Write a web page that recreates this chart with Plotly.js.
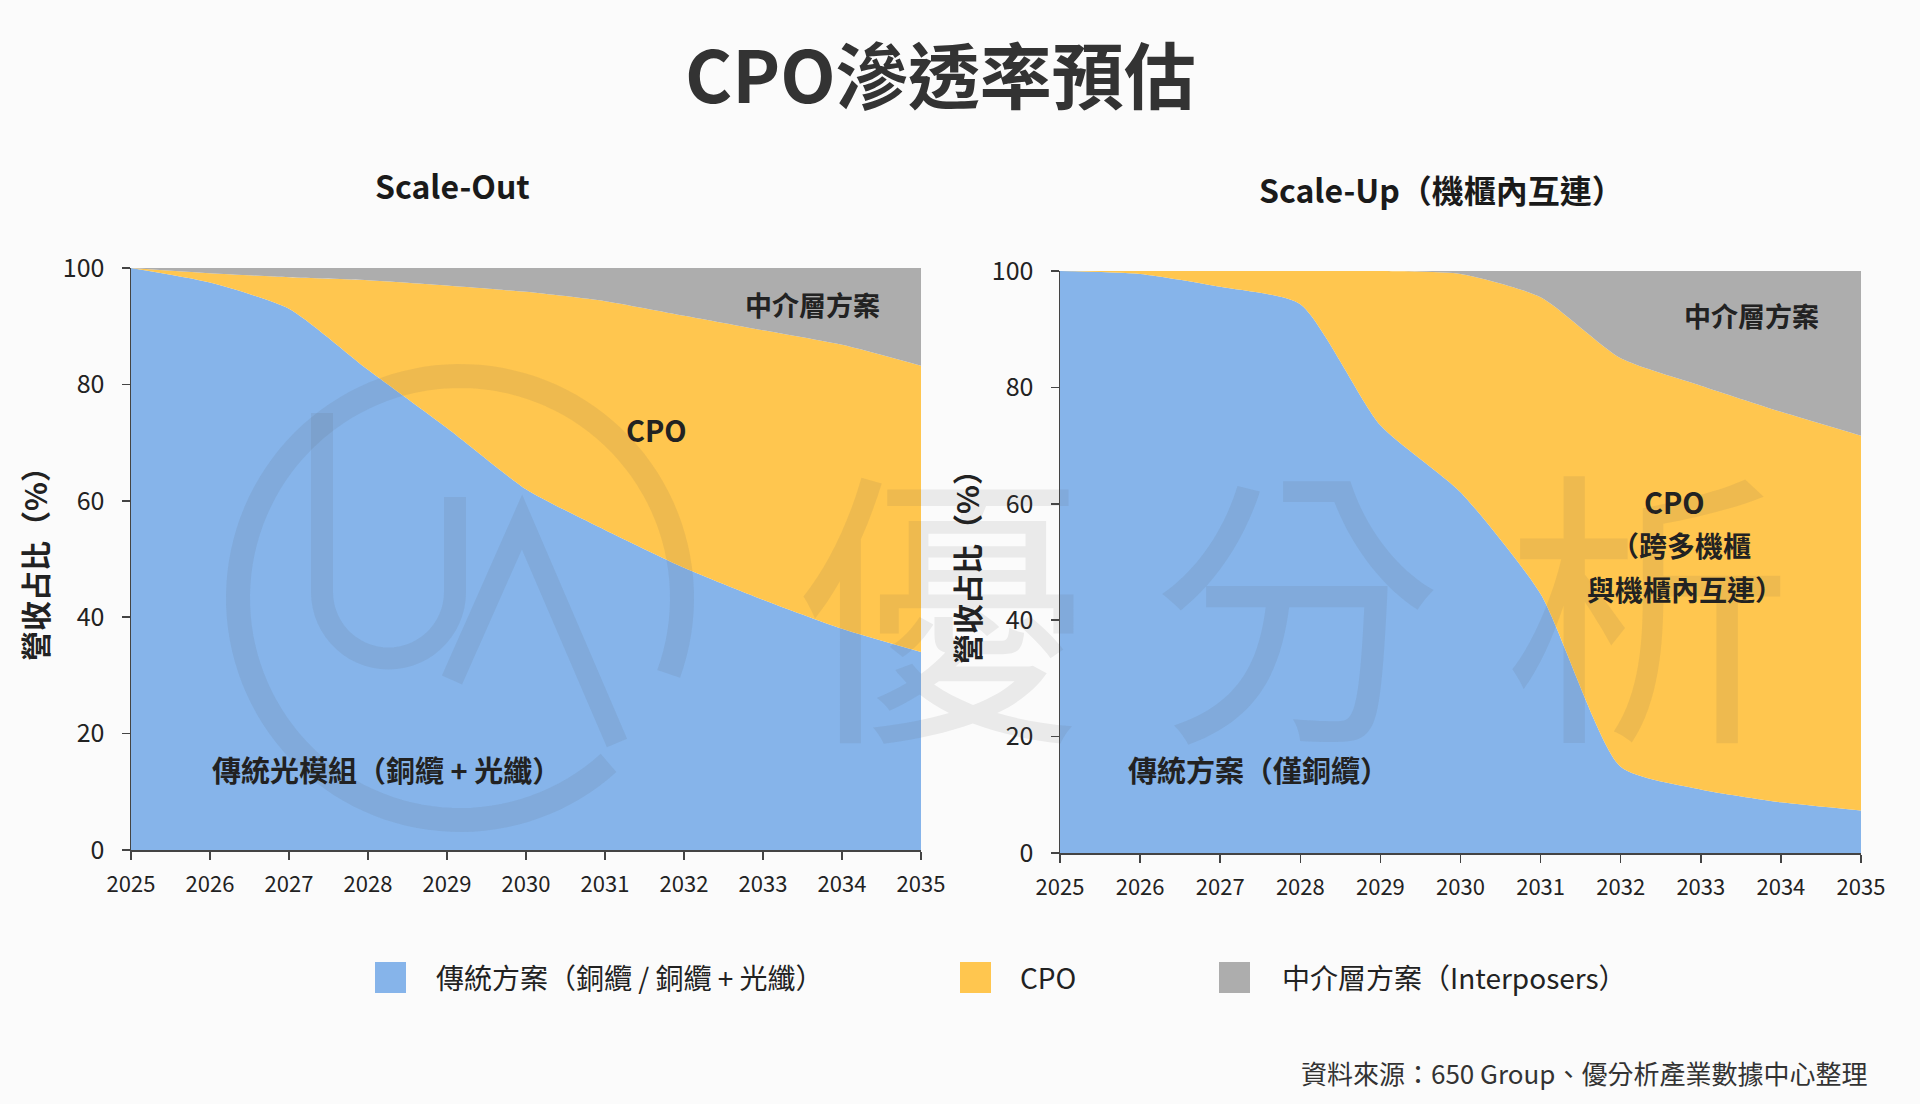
<!DOCTYPE html>
<html>
<head>
<meta charset="utf-8">
<script src="https://cdn.plot.ly/plotly-3.0.1.min.js"></script>
<style>
html,body{margin:0;padding:0;background:#fbfbfb;}
#chart{width:1920px;height:1104px;}
</style>
</head>
<body>
<div id="chart"></div>
<script>
// ---------- data ----------
const years = [2025, 2026, 2027, 2028, 2029, 2030, 2031, 2032, 2033, 2034, 2035];
const yTicks = [0, 20, 40, 60, 80, 100];

// Scale-Out (share of revenue, %)
const soTraditional = [100, 97.5, 93.0, 82.5, 72.5, 62.0, 55.0, 48.5, 43.0, 38.0, 34.0];
const soCPO         = [0,   1.6,  5.4,  15.4, 24.5, 33.9, 39.3, 43.3, 46.3, 48.8, 49.2];
const soInterposer  = [0,   0.9,  1.6,  2.1,  3.0,  4.1,  5.7,  8.2,  10.7, 13.2, 16.8];

// Scale-Up (share of revenue, %)
const suTraditional = [100, 99.5, 97.3, 94.3, 73.5, 62.0, 44.5, 14.8, 10.9, 8.7, 7.3];
const suCPO         = [0,   0.5,  2.7,  5.7,  26.5, 37.5, 51.0, 70.2, 69.4, 67.1, 64.4];
const suInterposer  = [0,   0,    0,    0,    0,    0.5,  4.5,  15.0, 19.7, 24.2, 28.3];

const seriesNames = ['傳統方案（銅纜 / 銅纜 + 光纖）', 'CPO', '中介層方案（Interposers）'];
const colors = ['#86b4ea', '#ffc64f', '#adadad'];

// ---------- helpers ----------
const W = 1920, H = 1104;
const px = x => x / W;
const py = y => 1 - y / H;
const FONT = '"Noto Sans CJK TC", "Noto Sans", sans-serif';

function area(x, y, name, color, xa, ya, group) {
  return {
    x: x, y: y, name: name, type: 'scatter', mode: 'lines',
    stackgroup: group, xaxis: xa, yaxis: ya,
    line: {width: 0, shape: 'spline', smoothing: 0.6},
    fillcolor: color, showlegend: false, hoverinfo: 'x+y+name'
  };
}

const traces = [
  area(years, soTraditional, seriesNames[0], colors[0], 'x', 'y', 'so'),
  area(years, soCPO, seriesNames[1], colors[1], 'x', 'y', 'so'),
  area(years, soInterposer, seriesNames[2], colors[2], 'x', 'y', 'so'),
  area(years, suTraditional, seriesNames[0], colors[0], 'x2', 'y2', 'su'),
  area(years, suCPO, seriesNames[1], colors[1], 'x2', 'y2', 'su'),
  area(years, suInterposer, seriesNames[2], colors[2], 'x2', 'y2', 'su')
];

function xAxis(domain, anchor) {
  return {
    domain: domain, anchor: anchor, range: [2025, 2035],
    tickvals: years, ticktext: years.map(String),
    ticks: 'outside', ticklen: 8, tickwidth: 1.5, tickcolor: '#444',
    showline: true, linecolor: '#444', linewidth: 1.5,
    showgrid: false, zeroline: false, fixedrange: true,
    tickfont: {family: FONT, size: 22, color: '#222'}, ticklabelstandoff: 6
  };
}
function yAxis(domain, anchor) {
  return {
    domain: domain, anchor: anchor, range: [0, 100],
    tickvals: yTicks, ticktext: yTicks.map(String),
    ticks: 'outside', ticklen: 8, tickwidth: 1.5, tickcolor: '#444',
    showline: true, linecolor: '#444', linewidth: 1.5,
    showgrid: false, zeroline: false, fixedrange: true,
    tickfont: {family: FONT, size: 25, color: '#222'}, ticklabelstandoff: 12
  };
}

// ---------- watermark ----------
const wmColor = 'rgba(90,90,90,0.10)';
function arcPath(cx, cy, r, a0, a1, n) {
  let d = '';
  for (let i = 0; i <= n; i++) {
    const a = (a0 + (a1 - a0) * i / n) * Math.PI / 180;
    const X = cx + r * Math.cos(a), Y = cy + r * Math.sin(a);
    d += (i === 0 ? 'M' : 'L') + px(X).toFixed(5) + ',' + py(Y).toFixed(5);
  }
  return d;
}
function uPath() {
  const lx = 322, rx = 455, top = 413, base = 592;
  let d = 'M' + px(lx) + ',' + py(top) + 'L' + px(lx) + ',' + py(base);
  const cx = (lx + rx) / 2, cy = base, r = (rx - lx) / 2;
  for (let i = 1; i <= 30; i++) {
    const a = Math.PI - Math.PI * i / 30;
    d += 'L' + px(cx + r * Math.cos(a)).toFixed(5) + ',' + py(cy + r * Math.sin(a)).toFixed(5);
  }
  d += 'L' + px(rx) + ',' + py(497);
  return d;
}
const aPath = 'M' + px(452) + ',' + py(680) + 'L' + px(522) + ',' + py(522) + 'L' + px(617) + ',' + py(743);

const shapes = [
  {type: 'path', xref: 'paper', yref: 'paper', layer: 'above', path: arcPath(460, 598, 222, 20, -312, 120), line: {color: wmColor, width: 24}},
  {type: 'path', xref: 'paper', yref: 'paper', layer: 'above', path: uPath(), line: {color: wmColor, width: 22}},
  {type: 'path', xref: 'paper', yref: 'paper', layer: 'above', path: aPath, line: {color: wmColor, width: 22}}
];

// legend swatches
const legendItems = [
  {sx: 375, tx: 434},
  {sx: 960, tx: 1018},
  {sx: 1219, tx: 1280}
];
legendItems.forEach((it, i) => {
  shapes.push({type: 'rect', xref: 'paper', yref: 'paper', layer: 'above',
    x0: px(it.sx), x1: px(it.sx + 31), y0: py(993), y1: py(962),
    fillcolor: colors[i], line: {width: 0}});
});

function ann(text, x, y, size, opts) {
  return Object.assign({
    text: text, xref: 'paper', yref: 'paper', x: px(x), y: py(y),
    showarrow: false, xanchor: 'center', yanchor: 'middle',
    font: {family: FONT, size: size, color: '#222'}
  }, opts || {});
}

const annotations = [
  // watermark text
  ann('優', 940, 594, 290, {font: {family: FONT, size: 290, color: wmColor}}),
  ann('分', 1297, 594, 290, {font: {family: FONT, size: 290, color: wmColor}}),
  ann('析', 1648, 594, 290, {font: {family: FONT, size: 290, color: wmColor}}),
  // main title
  ann('<b>CPO滲透率預估</b>', 940, 71, 72, {font: {family: FONT, size: 72, color: '#333'}}),
  // subplot titles
  ann('<b>Scale-Out</b>', 452, 185, 32, {font: {family: FONT, size: 32, color: '#1a1a1a'}}),
  ann('<b>Scale-Up（機櫃內互連）</b>', 1441, 189, 32, {font: {family: FONT, size: 32, color: '#1a1a1a'}}),
  // y titles
  ann('<b>營收占比（%）</b>', 34, 557, 30, {textangle: -90}),
  ann('<b>營收占比（%）</b>', 966, 560, 30, {textangle: -90}),
  // in-chart labels, left
  ann('<b>中介層方案</b>', 812, 304, 27),
  ann('<b>CPO</b>', 656, 429, 29),
  ann('<b>傳統光模組（銅纜 + 光纖）</b>', 386, 769, 29),
  // in-chart labels, right
  ann('<b>中介層方案</b>', 1751, 316, 27),
  ann('<b>CPO</b>', 1674, 501, 29),
  ann('<b>（跨多機櫃</b>', 1681, 545, 28),
  ann('<b>與機櫃內互連）</b>', 1685, 589, 28),
  ann('<b>傳統方案（僅銅纜）</b>', 1258, 769, 29),
  // source
  ann('資料來源：650 Group、優分析產業數據中心整理', 1870, 1072, 26, {xanchor: 'right', font: {family: FONT, size: 26, color: '#333'}})
];
// legend texts
legendItems.forEach((it, i) => {
  annotations.push(ann(seriesNames[i], it.tx, 977, 28, {xanchor: 'left'}));
});

const layout = {
  width: W, height: H,
  margin: {l: 0, r: 0, t: 0, b: 0},
  paper_bgcolor: '#fbfbfb', plot_bgcolor: 'rgba(0,0,0,0)',
  showlegend: false,
  font: {family: FONT, color: '#222'},
  xaxis: xAxis([131 / W, 921 / W], 'y'),
  yaxis: yAxis([1 - 850 / H, 1 - 268 / H], 'x'),
  xaxis2: xAxis([1060 / W, 1861 / W], 'y2'),
  yaxis2: yAxis([1 - 853 / H, 1 - 271 / H], 'x2'),
  shapes: shapes,
  annotations: annotations
};

Plotly.newPlot('chart', traces, layout, {displayModeBar: false, staticPlot: true});
</script>
</body>
</html>
